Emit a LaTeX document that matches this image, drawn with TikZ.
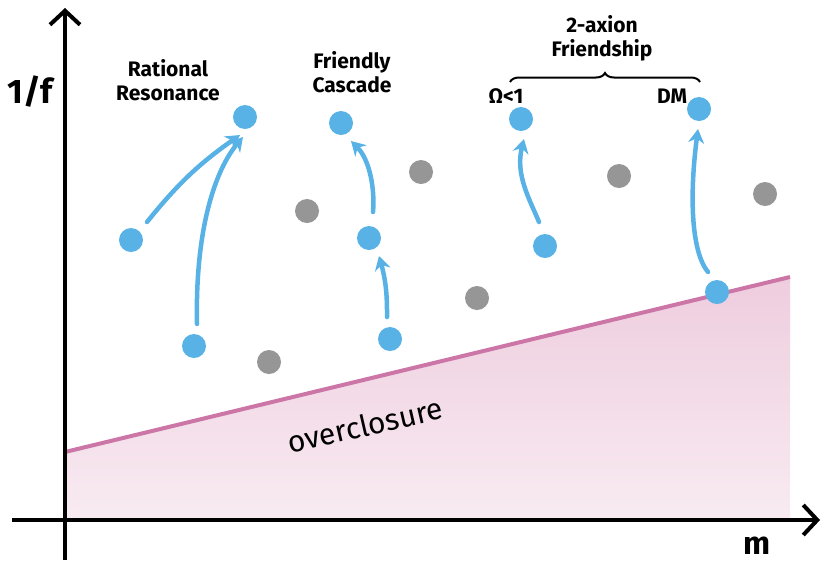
\documentclass[tikz,border=0pt]{standalone}
\usepackage{fontspec}
\setmainfont{Fira Sans}
\usetikzlibrary{arrows.meta,decorations.pathreplacing}
\definecolor{dotblue}{RGB}{88,178,230}
\definecolor{dotgray}{RGB}{150,150,150}
\definecolor{lilac}{RGB}{204,118,168}
\definecolor{pinkfill}{RGB}{238,205,222}
\tikzset{
 bdot/.style={circle,fill=dotblue,minimum size=24pt,inner sep=0pt},
 gdot/.style={circle,fill=dotgray,minimum size=24pt,inner sep=0pt},
 barrow/.style={draw=dotblue,line width=4.5pt,-{Stealth[length=14pt,width=16pt]},line cap=round},
 axis/.style={line width=4pt,-{Straight Barb[length=14pt,width=30pt]}},
 lbl/.style={font=\fontsize{21}{24}\selectfont\bfseries,align=center}
}
\begin{document}
\begin{tikzpicture}[x=1pt,y=-1pt]
\useasboundingbox (0,0) rectangle (830,579);
\shade[top color=pinkfill,bottom color=pinkfill!40] (65,452) -- (790,277) -- (790,520) -- (65,520) -- cycle;
\draw[lilac,line width=4pt] (65,452) -- (790,277);
\coordinate (o1) at (65,560); \coordinate (o2) at (65,8);
\coordinate (o3) at (12,520); \coordinate (o4) at (820,520);
\draw[axis] (o1) -- (o2);
\draw[axis] (o3) -- (o4);
\foreach \n/\x/\y in {g1/307/211,g2/421/172,g3/477/298,g4/269/362,g5/619/176,g6/765/194}
 \node[gdot] (\n) at (\x,\y) {};
\foreach \n/\x/\y in {a/131/240,b/194/346,c/245/117,d/341/123,e/369/238,f/390/339,g/521/119,h/545/246,i/699/109,j/717/292}
 \node[bdot] (\n) at (\x,\y) {};
\draw[barrow] ([shift={(16,-18)}]a.center) to[bend left=8] ([shift={(-5,18)}]c.center);
\draw[barrow] ([shift={(3,-22)}]b.center) .. controls (195,230) and (215,170) .. ([shift={(-2,20)}]c.center);
\draw[barrow] ([shift={(4,-26)}]e.center) .. controls (375,190) and (370,160) .. ([shift={(10,18)}]d.center);
\draw[barrow] ([shift={(-3,-22)}]f.center) to[bend right=8] ([shift={(10,18)}]e.center);
\draw[barrow] ([shift={(-6,-24)}]h.center) .. controls (530,200) and (515,175) .. ([shift={(3,20)}]g.center);
\draw[barrow] ([shift={(-9,-20)}]j.center) .. controls (690,250) and (690,190) .. ([shift={(-1,20)}]i.center);
\node[lbl] (t1) at (168,80) {Rational\\Resonance};
\node[lbl] (t2) at (352,72) {Friendly\\Cascade};
\node[lbl] (t3) at (602,38) {2-axion\\Friendship};
\coordinate (br1) at (510,82); \coordinate (br2) at (700,82);
\draw[line width=2pt,decorate,decoration={brace,amplitude=9pt}] (br1) -- (br2);
\node[lbl] (t4) at (506,96) {Ω<1};
\node[lbl] (t5) at (672,96) {DM};
\node[lbl,rotate=13,font=\fontsize{30}{32}\selectfont] (t6) at (365,425) {overclosure};
\node[lbl,font=\fontsize{32}{34}\selectfont\bfseries] (t7) at (757,546) {m};
\node[lbl,font=\fontsize{34}{36}\selectfont\bfseries] (t8) at (30,92) {1/f};
\end{tikzpicture}
\end{document}
